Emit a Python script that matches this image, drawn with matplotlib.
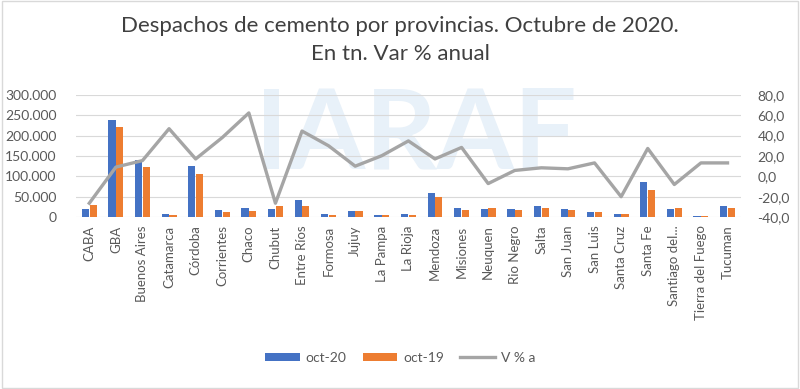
import matplotlib.pyplot as plt
import matplotlib.ticker as mticker
import numpy as np

plt.rcParams['font.family'] = ['Lato', 'DejaVu Sans']

provincias = ["CABA", "GBA", "Buenos Aires", "Catamarca", "Córdoba", "Corrientes",
              "Chaco", "Chubut", "Entre Ríos", "Formosa", "Jujuy", "La Pampa",
              "La Rioja", "Mendoza", "Misiones", "Neuquen", "Rio Negro", "Salta",
              "San Juan", "San Luis", "Santa Cruz", "Santa Fe", "Santiago del...",
              "Tierra del Fuego", "Tucuman"]

oct20 = [19000, 238000, 141000, 7000, 125000, 17000, 23000, 19000, 42000, 7000,
         14000, 5000, 7000, 59000, 23000, 19000, 19000, 26000, 19000, 12000,
         7000, 85000, 19000, 2000, 26000]
oct19 = [30000, 221000, 122000, 5000, 105000, 12000, 14000, 27000, 26000, 5000,
         14000, 5000, 5000, 49000, 17000, 23000, 17000, 23000, 17000, 12000,
         7000, 66000, 23000, 2000, 23000]
var_anual = [-26.4, 9.1, 15.5, 46.8, 17.1, 38.1, 62.3, -26.4, 44.5, 30.0,
             10.0, 20.3, 34.8, 17.1, 28.4, -7.1, 5.8, 8.4, 7.4, 13.2,
             -20.0, 27.4, -8.0, 13.2, 13.2]

n = len(provincias)
x = np.arange(n)

fig = plt.figure(figsize=(8, 3.89), dpi=100)

# marca de agua (detras de todo)
fig.text(0.52, 0.65, "IARAF", color="#e8f1f9", fontsize=80, fontweight="bold",
         ha="center", va="center", zorder=-5)

ax = fig.add_axes([0.095, 0.442, 0.831, 0.314])
ax2 = ax.twinx()

w = 0.27
b1 = ax.bar(x - 0.145, oct20, w, color="#4472C4", label="oct-20", zorder=2)
b2 = ax.bar(x + 0.145, oct19, w, color="#ED7D31", label="oct-19", zorder=2)
l1, = ax2.plot(x, var_anual, color="#A5A5A5", lw=2.4, label="V % a", zorder=3)

ax.set_ylim(0, 300000)
ax.set_yticks(np.arange(0, 300001, 50000))
ax.yaxis.set_major_formatter(mticker.FuncFormatter(
    lambda v, p: "0" if v == 0 else f"{int(v):,}".replace(",", ".")))
ax2.set_ylim(-40, 80)
ax2.set_yticks(np.arange(-40, 81, 20))
ax2.yaxis.set_major_formatter(mticker.FuncFormatter(
    lambda v, p: f"{v:.1f}".replace(".", ",")))

ax.set_xlim(-0.5, n - 0.5)
ax.set_xticks(x)
ax.set_xticklabels(provincias, rotation=90, fontsize=9.5, color="#595959")
ax.grid(axis="y", color="#D9D9D9", lw=0.8, zorder=0)
ax.set_axisbelow(True)
ax.patch.set_alpha(0)
ax2.patch.set_alpha(0)

for a in (ax, ax2):
    for s in a.spines.values():
        s.set_visible(False)
    a.tick_params(length=0, labelsize=10, labelcolor="#595959")
ax.tick_params(axis="x", pad=6, labelsize=9.5)
ax.tick_params(axis="y", pad=14)
ax2.tick_params(axis="y", pad=12)

fig.suptitle("Despachos de cemento por provincias. Octubre de 2020.\nEn tn. Var % anual",
             fontsize=16, color="#404040", y=0.958, linespacing=1.5)

fig.legend([b1, b2, l1], ["oct-20", "oct-19", "V % a"], loc="center",
           bbox_to_anchor=(0.5, 0.08), ncol=3, frameon=False, fontsize=10,
           handlelength=2.5, handleheight=0.6, handletextpad=0.4,
           columnspacing=1.2, labelcolor="#595959")

fig.patches.append(plt.Rectangle((0.002, 0.003), 0.996, 0.994, transform=fig.transFigure,
                                 fill=False, edgecolor="#D9D9D9", lw=1))

fig.savefig("out.png", dpi=100)
